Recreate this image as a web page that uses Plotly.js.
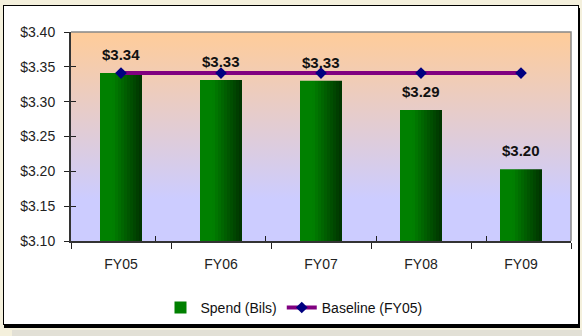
<!DOCTYPE html>
<html>
<head>
<meta charset="utf-8">
<script src="https://cdn.plot.ly/plotly-3.0.1.min.js"></script>
<style>
  html, body { margin: 0; padding: 0; }
  body { width: 582px; height: 336px; background: #f4f0dc; position: relative; overflow: hidden; }
  #bottomstrip { position: absolute; left: 12px; top: 330px; width: 570px; height: 6px; background: #e2e0d6; }
  #frame { position: absolute; left: 3px; top: 5px; width: 574px; height: 318px; background: #ffffff;
           border: 1px solid #000; box-shadow: 1px 3px 0 #000; }
  #chart { position: absolute; left: 0; top: 0; width: 582px; height: 336px; }
</style>
</head>
<body>
<div id="bottomstrip"></div>
<div id="frame"></div>
<div id="chart"></div>
<script>
// ---- data ----
const categories = ['FY05', 'FY06', 'FY07', 'FY08', 'FY09'];
const spend = [3.341, 3.331, 3.330, 3.288, 3.203];
const spendLabels = ['$3.34', '$3.33', '$3.33', '$3.29', '$3.20'];
const baseline = [3.341, 3.341, 3.341, 3.341, 3.341];
const yTickVals = [3.10, 3.15, 3.20, 3.25, 3.30, 3.35, 3.40];
const yTickText = ['$3.10', '$3.15', '$3.20', '$3.25', '$3.30', '$3.35', '$3.40'];

// ---- gradient bar slices ----
const barWidth = 0.42;
const nSlices = 14;
function sliceColor(t) {
  const c0 = [0, 128, 0], c1 = [0, 50, 0];
  let u = t < 0.3 ? 0 : (t - 0.3) / 0.7;
  const c = c0.map((v, i) => Math.round(v + (c1[i] - v) * u));
  return 'rgb(' + c.join(',') + ')';
}
const traces = [];
for (let i = 0; i < nSlices; i++) {
  const w = barWidth / nSlices;
  traces.push({
    type: 'bar',
    x: categories,
    y: spend,
    width: categories.map(() => w),
    offset: categories.map(() => -barWidth / 2 + i * w),
    marker: { color: sliceColor((i + 0.5) / nSlices), line: { width: 0 } },
    name: 'Spend (Bils)',
    legendgroup: 'spend',
    showlegend: i === 0,
    hoverinfo: 'skip'
  });
}
traces.push({
  type: 'scatter',
  mode: 'lines+markers',
  x: categories,
  y: baseline,
  name: 'Baseline (FY05)',
  line: { color: '#800080', width: 4 },
  marker: { symbol: 'diamond', color: '#000080', size: 9 }
});
traces.push({
  type: 'scatter', mode: 'markers', x: categories, y: baseline,
  xaxis: 'x2', yaxis: 'y2', marker: { opacity: 0 }, showlegend: false, hoverinfo: 'skip'
});

const annotations = categories.map((c, i) => ({
  x: c, y: spend[i], xref: 'x', yref: 'y',
  text: spendLabels[i], showarrow: false,
  yanchor: 'bottom', yshift: 8,
  font: { family: 'Liberation Sans Narrow, Liberation Sans, Arial, sans-serif', size: 15, color: '#111', weight: 'bold' }
}));

const bgSvg = "<svg xmlns='http://www.w3.org/2000/svg' width='10' height='100' preserveAspectRatio='none'>" +
  "<defs><linearGradient id='g' x1='0' y1='0' x2='0' y2='1'>" +
  "<stop offset='0' stop-color='#FFCC99'/><stop offset='0.8' stop-color='#CCCCFF'/><stop offset='1' stop-color='#CCCCFF'/>" +
  "</linearGradient></defs><rect width='10' height='100' fill='url(#g)'/></svg>";

const font = { family: 'Liberation Sans, Arial, sans-serif', size: 14, color: '#222' };

const layout = {
  width: 582, height: 336,
  margin: { l: 71, r: 11, t: 32, b: 95 },
  paper_bgcolor: 'rgba(0,0,0,0)',
  plot_bgcolor: 'rgba(0,0,0,0)',
  font: font,
  barmode: 'overlay',
  showlegend: true,
  legend: {
    orientation: 'h', x: 0.446, xanchor: 'center', y: -0.32, yanchor: 'middle',
    font: { family: 'Liberation Sans, Arial, sans-serif', size: 14, color: '#111' },
    bgcolor: 'rgba(0,0,0,0)', itemwidth: 30, tracegroupgap: 0
  },
  xaxis: {
    type: 'category', tickson: 'boundaries', ticks: 'outside', ticklen: 6, tickcolor: '#222',
    showline: true, linecolor: '#333', linewidth: 2, showgrid: false, zeroline: false,
    ticklabelstandoff: 9, fixedrange: true
  },
  xaxis2: {
    type: 'category', overlaying: 'x', tickson: 'boundaries', ticks: 'inside', ticklen: 5,
    tickcolor: '#222', showticklabels: false, showline: false, showgrid: false, zeroline: false, fixedrange: true
  },
  yaxis: {
    range: [3.10, 3.40], tickvals: yTickVals, ticktext: yTickText,
    ticks: 'outside', ticklen: 5, tickcolor: '#222',
    showline: true, linecolor: '#333', linewidth: 2, showgrid: false, zeroline: false,
    ticklabelstandoff: 6, fixedrange: true
  },
  yaxis2: {
    range: [3.10, 3.40], overlaying: 'y', tickvals: yTickVals,
    ticks: 'inside', ticklen: 5, tickcolor: '#222', showticklabels: false,
    showline: false, showgrid: false, zeroline: false, fixedrange: true
  },
  images: [{
    source: 'data:image/svg+xml;charset=utf-8,' + encodeURIComponent(bgSvg),
    xref: 'paper', yref: 'paper', x: 0, y: 1, sizex: 1, sizey: 1,
    sizing: 'stretch', layer: 'below', xanchor: 'left', yanchor: 'top'
  }],
  shapes: [{
    type: 'path', xref: 'paper', yref: 'paper', path: 'M0,1 L1,1 L1,0',
    line: { color: '#888', width: 1.5 }, layer: 'above'
  }],
  annotations: annotations
};

Plotly.newPlot('chart', traces, layout, { staticPlot: true, displayModeBar: false });
</script>
</body>
</html>
